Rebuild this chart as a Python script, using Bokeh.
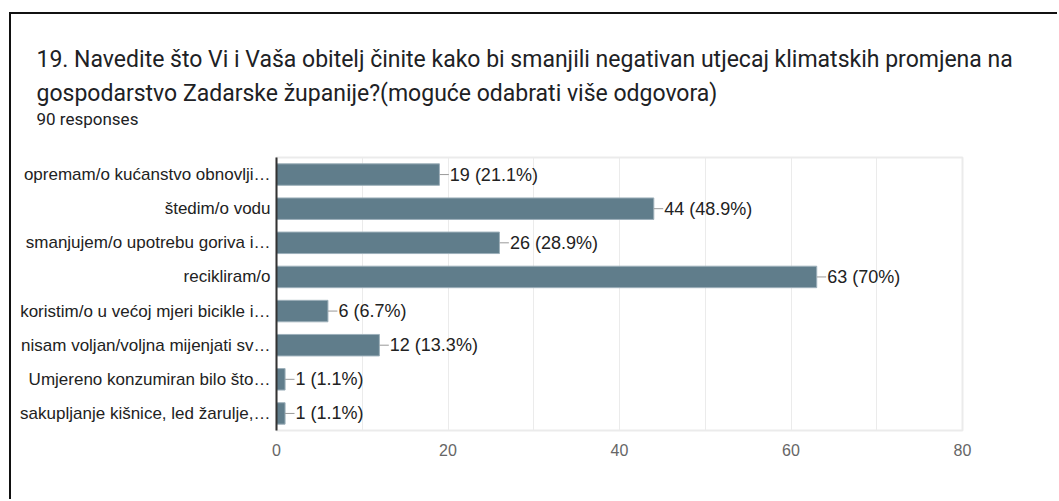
from bokeh.plotting import figure
from bokeh.models import Range1d, FixedTicker, Title, ColumnDataSource
from bokeh.embed import file_html
from bokeh.resources import INLINE

title_line1 = "19. Navedite što Vi i Vaša obitelj činite kako bi smanjili negativan utjecaj klimatskih promjena na"
title_line2 = "gospodarstvo Zadarske županije?(moguće odabrati više odgovora)"
subtitle = "90 responses"

categories = [
    "opremam/o kućanstvo obnovlji…",
    "štedim/o vodu",
    "smanjujem/o upotrebu goriva i…",
    "recikliram/o",
    "koristim/o u većoj mjeri bicikle i…",
    "nisam voljan/voljna mijenjati sv…",
    "Umjereno konzumiran bilo što…",
    "sakupljanje kišnice, led žarulje,…",
]
counts = [19, 44, 26, 63, 6, 12, 1, 1]
percents = ["21.1%", "48.9%", "28.9%", "70%", "6.7%", "13.3%", "1.1%", "1.1%"]
x_ticks = [0, 20, 40, 60, 80]

n = len(categories)
ypos = [n - i - 0.5 for i in range(n)]
labels = [f"{c} ({p})" for c, p in zip(counts, percents)]

src = ColumnDataSource(dict(y=ypos, v=counts, lab=labels,
                            lead=[c + 1.1 for c in counts]))

p = figure(width=1048, height=487, output_backend="svg", toolbar_location=None,
           x_range=Range1d(0, 80), y_range=Range1d(0, n),
           min_border_left=265, min_border_right=97, min_border_top=143,
           min_border_bottom=71)
p.styles = {"margin-left": "9px", "margin-top": "12px",
            "border-left": "2px solid #111", "border-top": "2px solid #111"}

p.hbar(y="y", right="v", left=0, height=0.63, source=src,
       fill_color="#607d8b", line_color="#9db0ba", line_width=1)
p.segment(x0="v", x1="lead", y0="y", y1="y", source=src,
          line_color="#999999", line_width=1)
p.text(x="lead", y="y", text="lab", source=src, text_baseline="middle",
       text_font_size="18px", text_color="#222222", text_font={"value": "Liberation Sans"},
       x_offset=1)

p.outline_line_color = "#ebebeb"
p.outline_line_width = 2
p.background_fill_color = "white"
p.border_fill_color = "white"

p.xgrid.ticker = FixedTicker(ticks=[10, 20, 30, 40, 50, 60, 70])
p.xgrid.grid_line_color = "#ebebeb"
p.xgrid.grid_line_width = 1
p.ygrid.grid_line_color = None

xa = p.xaxis[0]
xa.ticker = FixedTicker(ticks=x_ticks)
xa.axis_line_color = None
xa.major_tick_line_color = None
xa.minor_tick_line_color = None
xa.major_label_text_font = "Liberation Sans"
xa.major_label_text_font_size = "16px"
xa.major_label_text_color = "#666666"
xa.major_label_standoff = 7

ya = p.yaxis[0]
ya.ticker = FixedTicker(ticks=ypos)
ya.major_label_overrides = {y: c for y, c in zip(ypos, categories)}
ya.axis_line_color = "#333333"
ya.axis_line_width = 2
ya.major_tick_line_color = None
ya.minor_tick_line_color = None
ya.major_tick_out = 0
ya.major_label_standoff = 6
ya.major_label_text_font = "Liberation Sans"
ya.major_label_text_font_size = "17px"
ya.major_label_text_color = "#222222"

# titles stacked above the frame (first added = closest to the frame)
p.add_layout(Title(text=" ", text_font_size="14px", standoff=11), "above")
p.add_layout(Title(text=subtitle, text_font="Roboto", text_font_size="17px",
                   text_font_style="normal", text_color="#202124",
                   align="left", offset=-240, standoff=0), "above")
p.add_layout(Title(text=title_line2, text_font="Roboto", text_font_size="23px",
                   text_font_style="normal", text_color="#202124",
                   align="left", offset=-240, standoff=0), "above")
p.add_layout(Title(text=title_line1, text_font="Roboto", text_font_size="23px",
                   text_font_style="normal", text_color="#202124",
                   align="left", offset=-240, standoff=9), "above")

open("out.html", "w").write(file_html(p, INLINE))
